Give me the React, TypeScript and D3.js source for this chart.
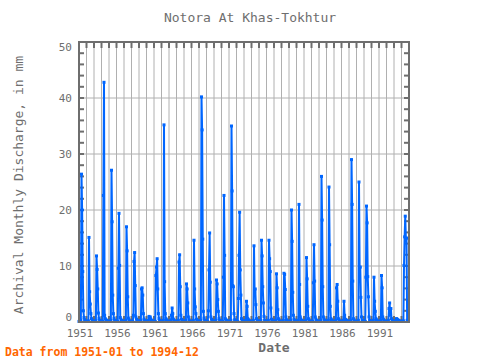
import React from "react";
import * as d3 from "d3";

const startYear = 1951;
const endYear = 1995;
const yTickValues = [0, 10, 20, 30, 40, 50];
const xTickLabels = [1951, 1956, 1961, 1966, 1971, 1976, 1981, 1986, 1991];

// Monthly discharge (mm), one row per year 1951..1994, Jan..Dec
const discharge: number[][] = [
  [0.1, 0.1, 0.1, 0.3, 26.4, 20.0, 9.0, 2.0, 0.8, 0.4, 0.2, 0.1], // 1951
  [0.1, 0.1, 0.1, 0.2, 15.1, 5.4, 3.2, 1.5, 0.6, 0.3, 0.2, 0.1], // 1952
  [0.1, 0.1, 0.1, 0.2, 11.8, 9.4, 5.9, 1.6, 0.6, 0.3, 0.2, 0.1], // 1953
  [0.1, 0.1, 0.1, 22.6, 42.8, 1.2, 0.6, 0.4, 0.3, 0.2, 0.1, 0.1], // 1954
  [0.1, 0.1, 0.1, 0.3, 27.1, 17.9, 4.8, 1.5, 0.6, 0.3, 0.2, 0.1], // 1955
  [0.1, 0.1, 0.1, 9.6, 19.4, 10.1, 0.8, 0.5, 0.3, 0.2, 0.1, 0.1], // 1956
  [0.1, 0.1, 0.1, 0.3, 17.0, 12.7, 4.5, 0.7, 0.4, 0.2, 0.1, 0.1], // 1957
  [0.1, 0.1, 0.1, 1.2, 10.8, 12.4, 6.5, 0.9, 0.5, 0.3, 0.2, 0.1], // 1958
  [0.1, 0.1, 0.1, 0.3, 5.9, 6.1, 4.8, 1.5, 0.5, 0.3, 0.2, 0.1], // 1959
  [0.1, 0.1, 0.1, 0.3, 1.0, 0.6, 0.9, 0.5, 0.3, 0.2, 0.1, 0.1], // 1960
  [0.1, 0.1, 0.1, 8.3, 9.8, 11.3, 5.9, 1.5, 0.6, 0.3, 0.2, 0.1], // 1961
  [0.1, 0.1, 0.1, 0.3, 35.2, 7.2, 1.5, 0.6, 0.4, 0.2, 0.1, 0.1], // 1962
  [0.1, 0.1, 0.1, 0.3, 1.2, 2.5, 1.5, 0.5, 0.3, 0.2, 0.1, 0.1], // 1963
  [0.1, 0.1, 0.1, 0.3, 10.7, 12.0, 6.3, 1.2, 0.5, 0.3, 0.2, 0.1], // 1964
  [0.1, 0.1, 0.1, 0.3, 6.8, 5.9, 3.4, 0.9, 0.4, 0.2, 0.1, 0.1], // 1965
  [0.1, 0.1, 0.1, 0.3, 14.6, 5.9, 2.7, 1.5, 0.5, 0.3, 0.2, 0.1], // 1966
  [0.1, 0.1, 0.1, 0.3, 40.2, 34.3, 14.8, 1.9, 0.7, 0.3, 0.2, 0.1], // 1967
  [0.1, 0.1, 0.1, 2.0, 9.3, 15.9, 7.1, 0.9, 0.5, 0.3, 0.2, 0.1], // 1968
  [0.1, 0.1, 0.1, 0.3, 7.5, 6.8, 4.0, 1.9, 0.6, 0.3, 0.2, 0.1], // 1969
  [0.1, 0.1, 0.1, 8.0, 22.6, 11.9, 0.6, 0.4, 0.3, 0.2, 0.1, 0.1], // 1970
  [0.1, 0.1, 0.1, 0.3, 35.0, 23.4, 6.5, 6.3, 1.5, 0.4, 0.2, 0.1], // 1971
  [0.1, 0.1, 0.1, 4.2, 11.9, 19.6, 9.3, 4.8, 0.6, 0.3, 0.2, 0.1], // 1972
  [0.1, 0.1, 0.1, 0.3, 3.7, 2.8, 0.6, 0.4, 0.3, 0.2, 0.1, 0.1], // 1973
  [0.1, 0.1, 0.1, 0.3, 13.6, 5.4, 5.9, 3.1, 0.6, 0.3, 0.2, 0.1], // 1974
  [0.1, 0.1, 0.1, 0.3, 14.6, 11.8, 6.3, 3.4, 1.0, 0.3, 0.2, 0.1], // 1975
  [0.1, 0.1, 0.1, 0.3, 14.6, 11.3, 9.0, 2.5, 0.5, 0.3, 0.2, 0.1], // 1976
  [0.1, 0.1, 0.1, 0.3, 8.6, 6.1, 2.2, 0.6, 0.4, 0.2, 0.1, 0.1], // 1977
  [0.1, 0.1, 0.1, 0.3, 8.7, 8.5, 5.8, 0.9, 0.4, 0.2, 0.1, 0.1], // 1978
  [0.1, 0.1, 0.1, 0.3, 20.0, 14.4, 5.3, 1.2, 0.5, 0.3, 0.2, 0.1], // 1979
  [0.1, 0.1, 0.1, 0.3, 21.0, 6.7, 0.9, 0.5, 0.3, 0.2, 0.1, 0.1], // 1980
  [0.1, 0.1, 0.1, 0.3, 11.5, 7.7, 2.8, 0.6, 0.4, 0.2, 0.1, 0.1], // 1981
  [0.1, 0.1, 0.1, 7.0, 13.8, 7.3, 0.9, 0.5, 0.3, 0.2, 0.1, 0.1], // 1982
  [0.1, 0.1, 0.1, 0.3, 26.0, 18.2, 6.3, 0.9, 0.5, 0.3, 0.2, 0.1], // 1983
  [0.1, 0.1, 0.1, 0.3, 24.1, 13.8, 2.8, 0.6, 0.4, 0.2, 0.1, 0.1], // 1984
  [0.1, 0.1, 0.1, 0.3, 6.1, 6.7, 3.7, 0.6, 0.4, 0.2, 0.1, 0.1], // 1985
  [0.1, 0.1, 0.1, 0.3, 3.7, 1.2, 0.5, 0.4, 0.3, 0.2, 0.1, 0.1], // 1986
  [0.1, 0.1, 0.1, 0.3, 29.0, 21.0, 7.3, 0.6, 0.4, 0.2, 0.1, 0.1], // 1987
  [0.1, 0.1, 0.1, 0.3, 25.0, 9.8, 9.8, 4.4, 0.9, 0.3, 0.2, 0.1], // 1988
  [0.1, 0.1, 0.1, 8.0, 20.7, 17.7, 8.1, 4.5, 0.9, 0.3, 0.2, 0.1], // 1989
  [0.1, 0.1, 0.1, 0.3, 8.0, 3.7, 1.9, 0.6, 0.4, 0.2, 0.1, 0.1], // 1990
  [0.1, 0.1, 0.1, 0.3, 8.3, 6.1, 0.9, 0.5, 0.3, 0.2, 0.1, 0.1], // 1991
  [0.1, 0.1, 0.1, 0.3, 2.4, 3.4, 1.2, 2.4, 0.6, 0.3, 0.2, 0.1], // 1992
  [0.1, 0.1, 0.1, 0.2, 0.6, 0.5, 0.4, 0.3, 0.2, 0.2, 0.1, 0.1], // 1993
  [0.1, 0.1, 0.1, 0.2, 10.1, 15.2, 18.9, 14.9, 15.0, 0.3, 0.2, 0.1], // 1994
];

const FONT = "'DejaVu Sans Mono', monospace";
const AXIS = "#6e6e6e";
const GRID = "#b0b0b0";
const BLUE = "#0066ff";

export default function App() {
  const W = 480;
  const H = 360;
  const left = 79;
  const right = 409;
  const top = 42;
  const bottom = 322;

  const x = d3.scaleLinear().domain([startYear, endYear]).range([left, right]);
  const y = d3.scaleLinear().domain([0, 50]).range([bottom, top]);

  const points = discharge.flatMap((row, i) =>
    row.map((v, m) => ({ t: startYear + i + m / 12, v }))
  );
  const line = d3
    .line<{ t: number; v: number }>()
    .x((d) => x(d.t))
    .y((d) => y(d.v));

  const years = d3.range(startYear, endYear + 1);
  const minorY = d3.range(0, 51, 2);

  return (
    <svg
      width={W}
      height={H}
      style={{ position: "absolute", left: 0, top: 0, background: "#fff" }}
    >
      {/* grid */}
      {years.slice(1, -1).map((yr) => (
        <line key={"gx" + yr} x1={x(yr)} x2={x(yr)} y1={top} y2={bottom} stroke={GRID} strokeWidth={1} />
      ))}
      {yTickValues.slice(1, -1).map((v) => (
        <line key={"gy" + v} x1={left} x2={right} y1={y(v)} y2={y(v)} stroke={GRID} strokeWidth={1} />
      ))}
      {/* ticks top/bottom */}
      {years.map((yr) => (
        <g key={"tx" + yr}>
          <line x1={x(yr)} x2={x(yr)} y1={top} y2={top + 6} stroke={AXIS} strokeWidth={2} />
          <line x1={x(yr)} x2={x(yr)} y1={bottom} y2={bottom - 6} stroke={AXIS} strokeWidth={2} />
        </g>
      ))}
      {/* ticks left/right */}
      {minorY.map((v) => (
        <g key={"ty" + v}>
          <line x1={left} x2={left + 5} y1={y(v)} y2={y(v)} stroke={AXIS} strokeWidth={2} />
          <line x1={right} x2={right - 5} y1={y(v)} y2={y(v)} stroke={AXIS} strokeWidth={2} />
        </g>
      ))}
      {/* data */}
      <path d={line(points) || ""} fill="none" stroke={BLUE} strokeWidth={2} strokeLinejoin="round" />
      {points.map((d, i) => (
        <rect key={"p" + i} x={x(d.t) - 1.5} y={y(d.v) - 1.5} width={3} height={3} fill={BLUE} />
      ))}
      {/* frame */}
      <rect x={left} y={top} width={right - left} height={bottom - top} fill="none" stroke={AXIS} strokeWidth={2} />
      {/* y labels */}
      {yTickValues.map((v) => {
        let yy = y(v);
        if (v === 0) yy -= 5;
        if (v === 50) yy += 5;
        return (
          <text key={"ly" + v} x={72} y={yy} dy="0.35em" textAnchor="end" fontFamily={FONT} fontSize={11} fill={AXIS}>
            {v}
          </text>
        );
      })}
      {/* x labels */}
      {xTickLabels.map((yr) => (
        <text key={"lx" + yr} x={x(yr) + 1} y={337} textAnchor="middle" fontFamily={FONT} fontSize={11} fill={AXIS}>
          {yr}
        </text>
      ))}
      <text x={250} y={22} textAnchor="middle" fontFamily={FONT} fontSize={13} fill={AXIS}>
        Notora At Khas-Tokhtur
      </text>
      <text x={274} y={352} textAnchor="middle" fontFamily={FONT} fontSize={13} fontWeight="bold" fill={AXIS}>
        Date
      </text>
      <text
        transform={`translate(23,185) rotate(-90)`}
        textAnchor="middle"
        fontFamily={FONT}
        fontSize={13}
        fill={AXIS}
      >
        Archival Monthly Discharge, in mm
      </text>
      <text x={5} y={356} fontFamily={FONT} fontSize={11.5} fontWeight="bold" fill="#ff6600">
        Data from 1951-01 to 1994-12
      </text>
    </svg>
  );
}
